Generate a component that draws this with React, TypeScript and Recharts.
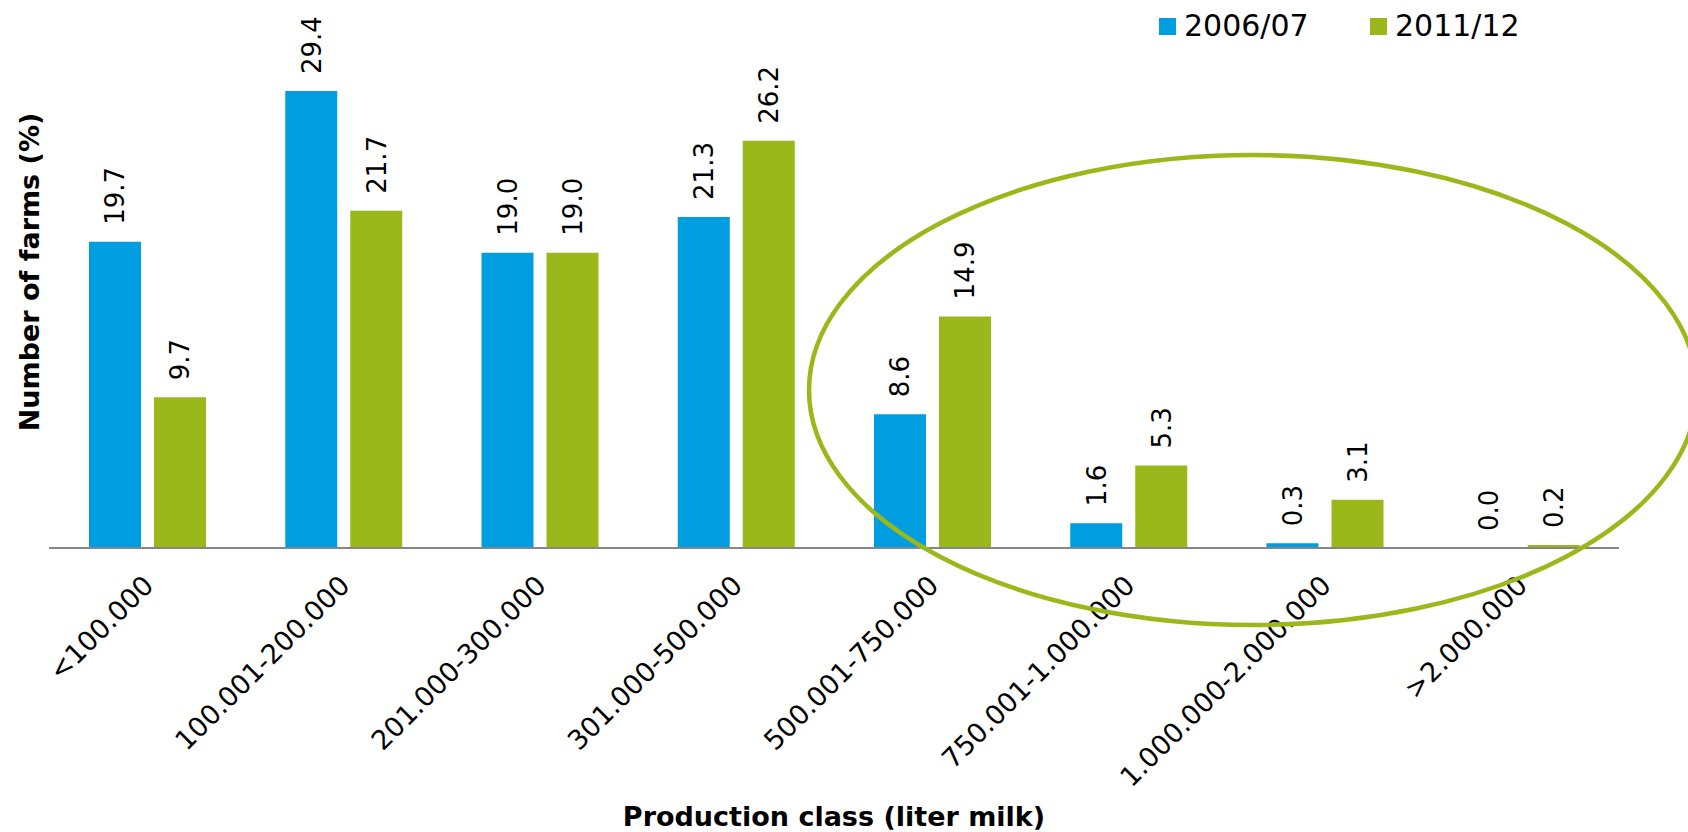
import { Bar, BarChart, LabelList, Label, XAxis, YAxis } from 'recharts';

const CATEGORIES = [
  '<100.000',
  '100.001-200.000',
  '201.000-300.000',
  '301.000-500.000',
  '500.001-750.000',
  '750.001-1.000.000',
  '1.000.000-2.000.000',
  '>2.000.000',
];
const FARMS_2006 = [19.7, 29.4, 19.0, 21.3, 8.6, 1.6, 0.3, 0.0];
const FARMS_2011 = [9.7, 21.7, 19.0, 26.2, 14.9, 5.3, 3.1, 0.2];

const SERIES = [
  { key: 'y2006', name: '2006/07', color: '#009EE0' },
  { key: 'y2011', name: '2011/12', color: '#9AB81A' },
];

const FONT = '"DejaVu Sans", Verdana, sans-serif';

const data = CATEGORIES.map((c, i) => ({
  cls: c,
  y2006: FARMS_2006[i],
  y2011: FARMS_2011[i],
}));

// étiquette verticale centrée au-dessus de chaque barre
function ValueLabel(props: any) {
  const { x, y, width, value } = props;
  const lx = x + width / 2 + 9.5;
  const ly = y - 17;
  return (
    <text
      x={lx}
      y={ly}
      transform={`rotate(-90, ${lx}, ${ly})`}
      textAnchor="start"
      fontSize={26}
      fontFamily={FONT}
      fill="#000"
    >
      {Number(value).toFixed(1)}
    </text>
  );
}

function ClassTick(props: any) {
  const { x, y, payload } = props;
  return (
    <g transform={`translate(${x + 8}, ${y + 39}) rotate(-45)`}>
      <text textAnchor="end" fontSize={27} fontFamily={FONT} fill="#000">
        {payload.value}
      </text>
    </g>
  );
}

export default function App() {
  return (
    <div
      style={{
        position: 'absolute',
        left: 0,
        top: 0,
        width: 1688,
        height: 832,
        background: '#fff',
        fontFamily: FONT,
        overflow: 'hidden',
      }}
    >
      <BarChart
        width={1688}
        height={832}
        data={data}
        margin={{ top: 4, right: 69, bottom: 0, left: 0 }}
        barGap={13}
      >
        <YAxis
          domain={[0, 35]}
          width={49}
          tick={false}
          tickLine={false}
          axisLine={false}
        >
          <Label
            content={() => (
              <text
                x={39}
                y={272}
                transform="rotate(-90, 39, 272)"
                textAnchor="middle"
                fontSize={27}
                fontWeight="bold"
                fontFamily={FONT}
                fill="#000"
              >
                Number of farms (%)
              </text>
            )}
          />
        </YAxis>
        <XAxis
          dataKey="cls"
          height={284}
          interval={0}
          tickLine={false}
          tickSize={0}
          tickMargin={0}
          axisLine={{ stroke: '#868686', strokeWidth: 2 }}
          tick={<ClassTick />}
        >
          <Label
            content={() => (
              <text
                x={834}
                y={826}
                textAnchor="middle"
                fontSize={27}
                fontWeight="bold"
                fontFamily={FONT}
                fill="#000"
              >
                Production class (liter milk)
              </text>
            )}
          />
        </XAxis>
        {SERIES.map((s) => (
          <Bar
            key={s.key}
            dataKey={s.key}
            name={s.name}
            fill={s.color}
            barSize={52}
            minPointSize={0.01}
            isAnimationActive={false}
          >
            <LabelList dataKey={s.key} content={<ValueLabel />} />
          </Bar>
        ))}
      </BarChart>

      <div
        style={{
          position: 'absolute',
          top: 11,
          left: 1159,
          display: 'flex',
          fontSize: 30,
          lineHeight: '30px',
        }}
      >
        {SERIES.map((s) => (
          <div key={s.key} style={{ display: 'flex', alignItems: 'center', width: 211 }}>
            <span style={{ width: 17, height: 17, background: s.color, marginRight: 8 }} />
            <span>{s.name}</span>
          </div>
        ))}
      </div>

      <svg
        width={1688}
        height={832}
        style={{ position: 'absolute', left: 0, top: 0, pointerEvents: 'none' }}
      >
        <ellipse
          cx={1253}
          cy={390}
          rx={444}
          ry={235}
          fill="none"
          stroke="#9AB81A"
          strokeWidth={4.5}
        />
      </svg>
    </div>
  );
}
